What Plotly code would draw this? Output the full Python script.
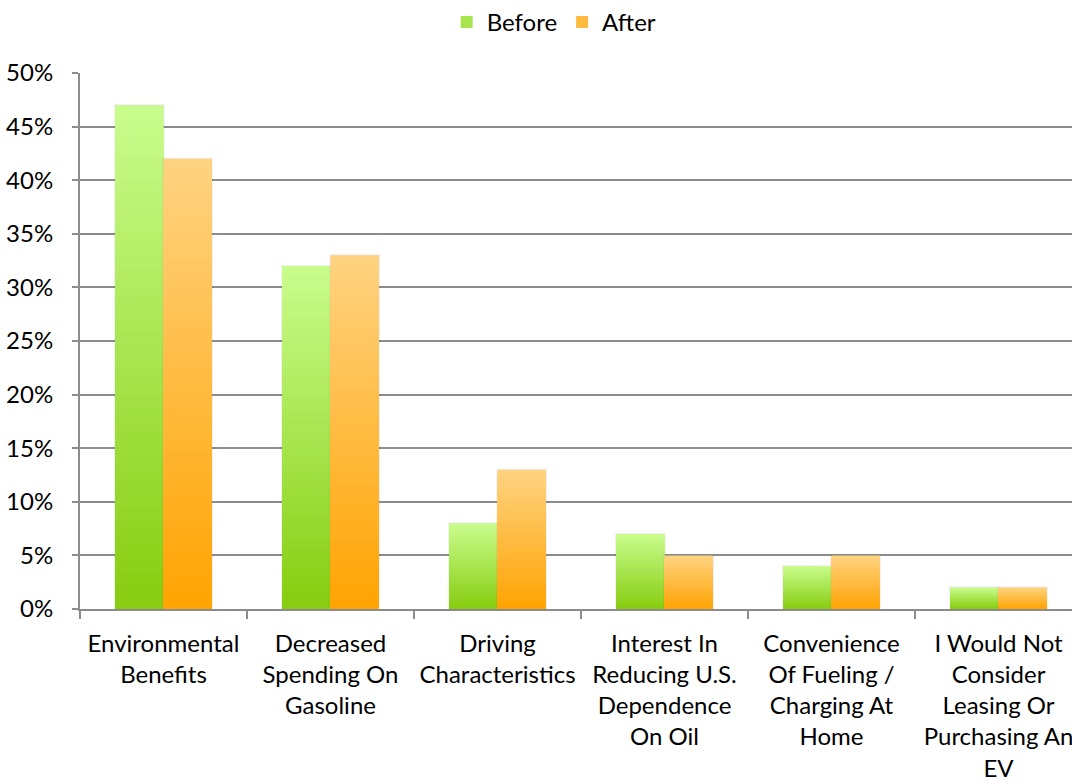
import plotly.graph_objects as go

# Survey data: reasons for considering an EV, before vs after
categories = [
    "Environmental Benefits",
    "Decreased Spending On Gasoline",
    "Driving Characteristics",
    "Interest In Reducing U.S. Dependence On Oil",
    "Convenience Of Fueling / Charging At Home",
    "I Would Not Consider Leasing Or Purchasing An EV",
]
tick_labels = [
    "Environmental<br>Benefits",
    "Decreased<br>Spending On<br>Gasoline",
    "Driving<br>Characteristics",
    "Interest In<br>Reducing U.S.<br>Dependence<br>On Oil",
    "Convenience<br>Of Fueling /<br>Charging At<br>Home",
    "I Would Not<br>Consider<br>Leasing Or<br>Purchasing An<br>EV",
]
before = [0.47, 0.32, 0.08, 0.07, 0.04, 0.02]
after = [0.42, 0.33, 0.13, 0.05, 0.05, 0.02]

series = [
    ("Before", before, (200, 252, 140), (134, 204, 14)),
    ("After", after, (255, 210, 128), (255, 163, 0)),
]

FONT = "Lato"
SIZE = 24
STEPS = 40


def mix(top, bottom, t):
    # t = 1 at the top of the bar, 0 at the base
    return "rgb(%d,%d,%d)" % tuple(round(b + (a - b) * t) for a, b in zip(top, bottom))


fig = go.Figure()

for name, vals, top, bottom in series:
    # faint drop shadow behind each bar
    fig.add_trace(go.Bar(
        x=categories, y=vals, offsetgroup=name, showlegend=False,
        marker=dict(color="rgba(0,0,0,0.10)", line=dict(width=2.5, color="rgba(0,0,0,0.05)")),
        hoverinfo="skip",
    ))
    # vertical gradient: tallest (lightest) first, shorter and darker layers on top
    for k in range(STEPS):
        frac = (STEPS - k) / STEPS
        fig.add_trace(go.Bar(
            x=categories,
            y=[v * frac for v in vals],
            offsetgroup=name,
            name=name,
            legendgroup=name,
            showlegend=False,
            marker=dict(color=mix(top, bottom, frac), line=dict(width=0)),
            hoverinfo="skip",
        ))
    # legend entry
    fig.add_trace(go.Bar(
        x=[None], y=[None], name=name, legendgroup=name, offsetgroup=name,
        marker=dict(color=mix(top, bottom, 0.5), line=dict(width=0)),
        showlegend=True,
    ))

fig.update_layout(
    width=1072,
    height=784,
    margin=dict(l=80, r=0, t=73, b=175),
    paper_bgcolor="white",
    plot_bgcolor="white",
    barmode="group",
    bargap=0.42,
    bargroupgap=0,
    font=dict(family=FONT, size=SIZE, color="#000000"),
    showlegend=True,
    legend=dict(
        orientation="h",
        x=0.478, xanchor="center",
        y=1.0, yref="container", yanchor="top",
        font=dict(family=FONT, size=SIZE),
        itemclick=False,
        itemwidth=30,
        traceorder="normal",
    ),
    xaxis=dict(
        type="category",
        range=[-0.5, 5.44],
        tickmode="array",
        tickvals=categories,
        ticktext=tick_labels,
        tickson="boundaries",
        ticks="outside",
        ticklen=8,
        tickwidth=2,
        tickcolor="#8c8c8c",
        showgrid=False,
        showline=True,
        linecolor="#8c8c8c",
        linewidth=2,
        tickangle=0,
        tickfont=dict(family=FONT, size=SIZE),
        ticklabelstandoff=12,
    ),
    yaxis=dict(
        range=[0, 0.5],
        dtick=0.05,
        tickformat=".0%",
        ticks="outside",
        ticklen=6,
        tickwidth=2,
        tickcolor="#8c8c8c",
        showgrid=True,
        gridcolor="#8c8c8c",
        gridwidth=2,
        showline=True,
        linecolor="#8c8c8c",
        linewidth=2,
        zeroline=False,
        tickfont=dict(family=FONT, size=SIZE),
        ticklabelstandoff=14,
    ),
)

fig.write_html("out.html")
